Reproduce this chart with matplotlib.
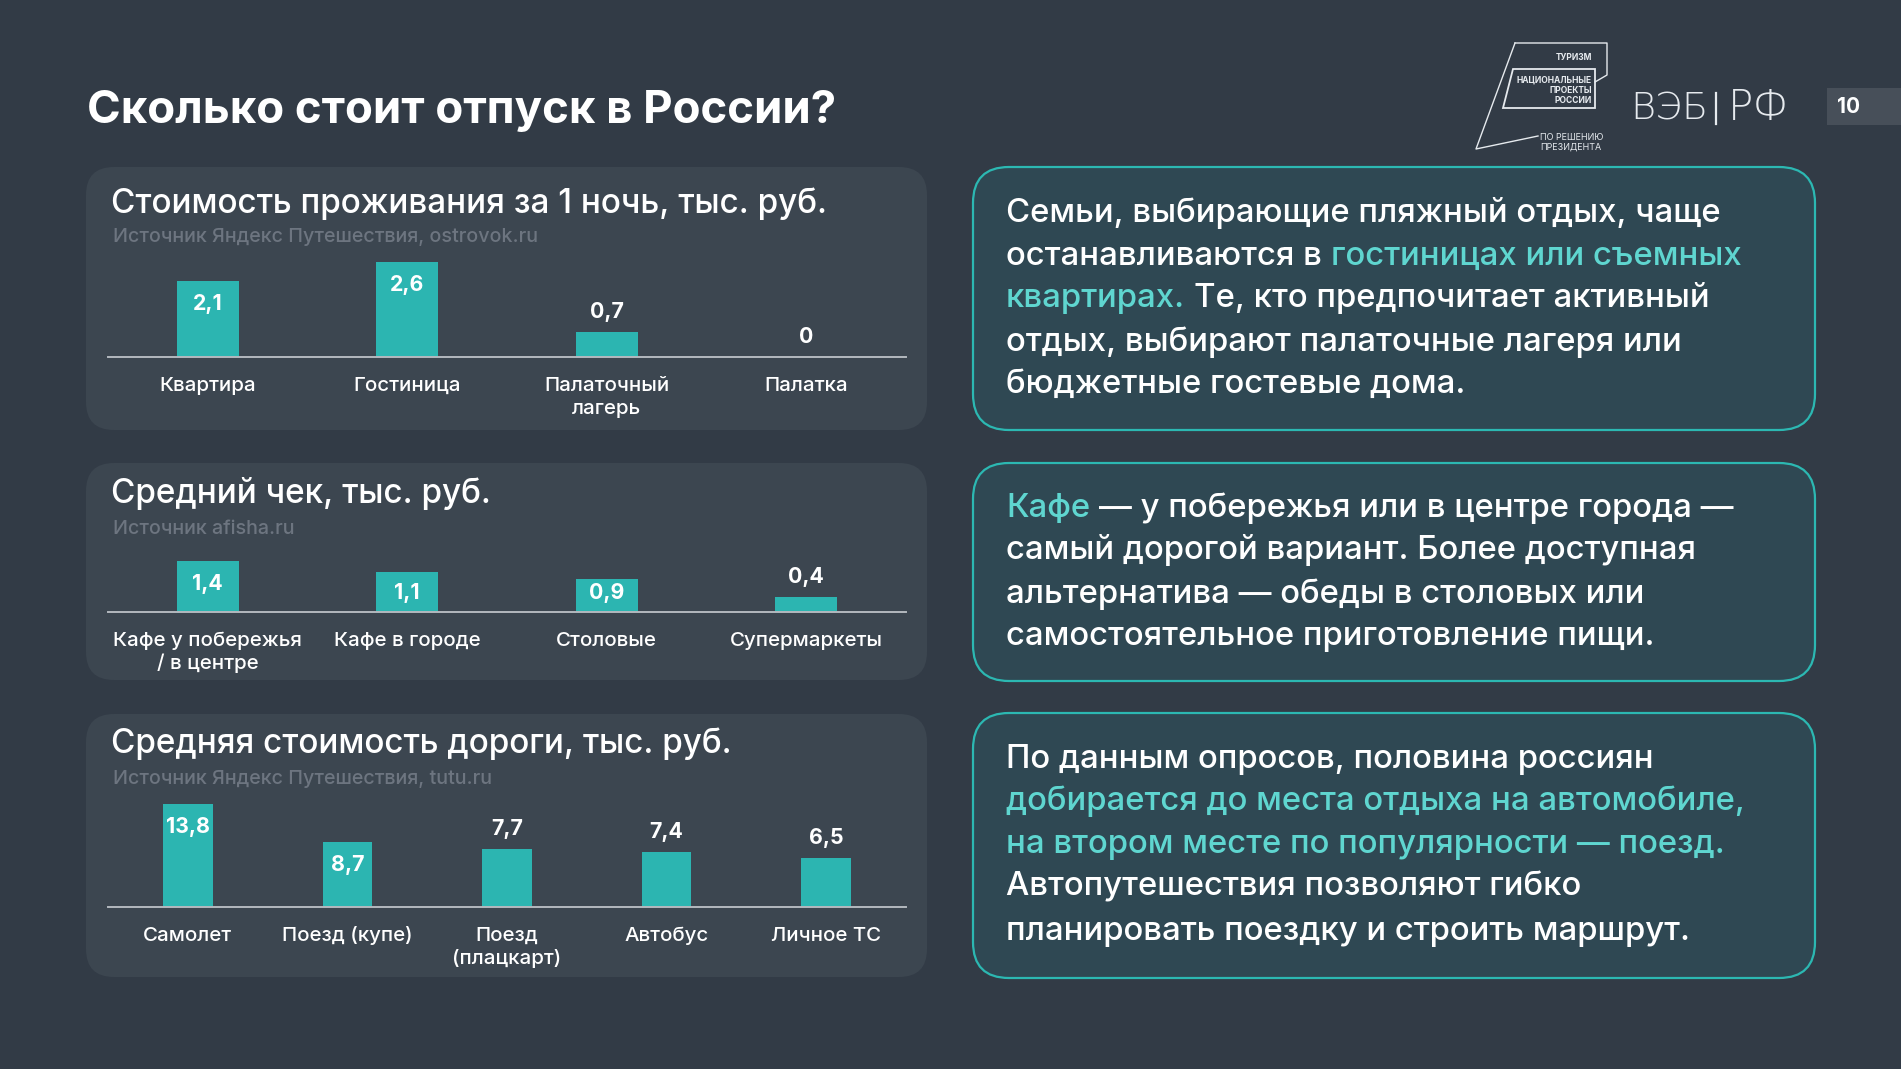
import os
import matplotlib
matplotlib.use("Agg")
import matplotlib.pyplot as plt
from matplotlib import font_manager as fm
from matplotlib import patheffects as pe
from matplotlib.patches import FancyBboxPatch, Polygon, Rectangle

# ---------------- data ----------------
main_title = "Сколько стоит отпуск в России?"
chart_titles = ["Стоимость проживания за 1 ночь, тыс. руб.",
                "Средний чек, тыс. руб.",
                "Средняя стоимость дороги, тыс. руб."]
chart_sources = ["Источник Яндекс Путешествия, ostrovok.ru",
                 "Источник afisha.ru",
                 "Источник Яндекс Путешествия, tutu.ru"]

stay_categories = ["Квартира", "Гостиница", "Палаточный\nлагерь", "Палатка"]
stay_values = [2.1, 2.6, 0.7, 0.0]

food_categories = ["Кафе у побережья\n/ в центре", "Кафе в городе", "Столовые", "Супермаркеты"]
food_values = [1.4, 1.1, 0.9, 0.4]

travel_categories = ["Самолет", "Поезд (купе)", "Поезд\n(плацкарт)", "Автобус", "Личное ТС"]
travel_values = [13.8, 8.7, 7.7, 7.4, 6.5]

# text boxes: each line is a list of (text, highlighted)
box1_lines = [
    [("Семьи, выбирающие пляжный отдых, чаще", False)],
    [("останавливаются в", False), ("гостиницах или съемных", True)],
    [("квартирах.", True), ("Те, кто предпочитает активный", False)],
    [("отдых, выбирают палаточные лагеря или", False)],
    [("бюджетные гостевые дома.", False)],
]
box2_lines = [
    [("Кафе", True), ("— у побережья или в центре города —", False)],
    [("самый дорогой вариант. Более доступная", False)],
    [("альтернатива — обеды в столовых или", False)],
    [("самостоятельное приготовление пищи.", False)],
]
box3_lines = [
    [("По данным опросов, половина россиян", False)],
    [("добирается до места отдыха на автомобиле,", True)],
    [("на втором месте по популярности — поезд.", True)],
    [("Автопутешествия позволяют гибко", False)],
    [("планировать поездку и строить маршрут.", False)],
]
page_number = "10"

# ---------------- style ----------------
W, H = 1901, 1069
BG = "#323b46"
PANEL = "#3c4650"
BOX_FILL = "#2f4853"
BOX_EDGE = "#2cb8b2"
BAR = "#2cb5b1"
HL = "#5fd6d0"
SRC = "#6d7580"
AXLINE = "#b4b9bf"
FONT = ["Inter", "DejaVu Sans"]
plt.rcParams["font.family"] = FONT

# emulate a medium weight if no real medium face is installed
_med_path = fm.findfont(fm.FontProperties(family="Inter", weight="medium"))
HAS_MEDIUM = "medium" in os.path.basename(_med_path).lower()


def med_fx(color, lw=0.6):
    if HAS_MEDIUM:
        return None
    return [pe.withStroke(linewidth=lw, foreground=color)]


fig = plt.figure(figsize=(W / 100, H / 100), dpi=100, facecolor=BG)
renderer = fig.canvas.get_renderer()

bg = fig.add_axes([0, 0, 1, 1])
bg.set_xlim(0, W)
bg.set_ylim(H, 0)
bg.axis("off")
bg.set_facecolor(BG)


def fit(s, target, **kw):
    t = fig.text(0, 0, s, fontsize=20, **kw)
    w = t.get_window_extent(renderer).width
    t.remove()
    return 20 * target / w


def width_of(s, size, **kw):
    t = fig.text(0, 0, s, fontsize=size, **kw)
    w = t.get_window_extent(renderer).width
    t.remove()
    return w


# font sizes fitted to reference widths (pixels)
fs_main = fit(main_title, 752, fontweight="bold")
fs_ctitle = fit(chart_titles[0], 716, fontweight="medium")
fs_src = fit(chart_sources[0], 425, fontweight="medium")
fs_cat = fit("Квартира", 96, fontweight="medium")
fs_val = fit("13,8", 44, fontweight="bold")
fs_box = fit(box1_lines[0][0][0], 713, fontweight="medium")

# ---------------- background shapes ----------------
def rbox(x0, y0, x1, y1, r, fc, ec="none", lw=0):
    p = FancyBboxPatch((x0, y0), x1 - x0, y1 - y0,
                       boxstyle=f"round,pad=0,rounding_size={r}",
                       fc=fc, ec=ec, lw=lw, zorder=1)
    bg.add_patch(p)


panels = [(86, 167, 927, 430), (86, 463, 927, 680), (86, 714, 927, 977)]
for (x0, y0, x1, y1) in panels:
    rbox(x0, y0, x1, y1, 28, PANEL)

boxes = [(973, 167, 1815, 430), (973, 463, 1815, 681), (973, 713, 1815, 978)]
for (x0, y0, x1, y1) in boxes:
    rbox(x0, y0, x1, y1, 36, BOX_FILL, BOX_EDGE, 1.6)

# main title
bg.text(87, 123, main_title, fontsize=fs_main, fontweight="bold", color="white",
        ha="left", va="baseline")

# chart titles & sources
title_base = [213, 503, 753]
src_base = [242, 534, 784]
for i in range(3):
    bg.text(111, title_base[i], chart_titles[i], fontsize=fs_ctitle, fontweight="medium",
            color="white", ha="left", va="baseline", path_effects=med_fx("white", 0.5))
    bg.text(113, src_base[i], chart_sources[i], fontsize=fs_src, fontweight="medium",
            color=SRC, ha="left", va="baseline", path_effects=med_fx(SRC, 0.4))

# ---------------- charts ----------------
def fmt(v):
    return "0" if v == 0 else f"{v:.1f}".replace(".", ",")


def chart(cats, vals, inside, y_base, px_per_unit, bar_w):
    x0, x1, h = 108, 906, 120
    ax = fig.add_axes([x0 / W, 1 - y_base / H, (x1 - x0) / W, h / H])
    ax.set_xlim(-0.5, len(cats) - 0.5)
    ax.set_ylim(0, h / px_per_unit)
    ax.axis("off")
    xs = list(range(len(cats)))
    ax.bar(xs, vals, width=bar_w, color=BAR, zorder=2)
    ax.axhline(0, color=AXLINE, lw=1.4, zorder=3, clip_on=False)
    for i, v in enumerate(vals):
        if inside[i]:
            off = -min(29, v * px_per_unit - 13)
        else:
            off = 14
        ax.annotate(fmt(v), xy=(i, v), xytext=(0, off * 0.72), textcoords="offset points",
                    ha="center", va="baseline", fontsize=fs_val, fontweight="bold",
                    color="white", annotation_clip=False, zorder=4)
        for j, line in enumerate(cats[i].split("\n")):
            ax.annotate(line, xy=(i, 0), xytext=(0, -(34 + 23 * j) * 0.72),
                        textcoords="offset points", ha="center", va="baseline",
                        fontsize=fs_cat, fontweight="medium", color="white",
                        annotation_clip=False, path_effects=med_fx("white", 0.45))
    return ax


chart(stay_categories, stay_values, [True, True, False, False], 357, 36.4, 0.31)
chart(food_categories, food_values, [True, True, True, False], 612, 36.4, 0.31)
chart(travel_categories, travel_values, [True, True, False, False, False], 907, 7.47, 0.31)

# ---------------- text boxes ----------------
space_w = width_of("н н", fs_box, fontweight="medium") - width_of("нн", fs_box, fontweight="medium")


def rich_block(x, baselines, lines):
    for yb, segs in zip(baselines, lines):
        cx = x
        for k, (s, hl) in enumerate(segs):
            col = HL if hl else "white"
            t = bg.text(cx, yb, s, fontsize=fs_box, fontweight="medium",
                        color=col, ha="left", va="baseline", zorder=5,
                        path_effects=med_fx(col, 0.55))
            cx += t.get_window_extent(renderer).width + space_w


rich_block(1006, [222, 265, 307, 351, 393], box1_lines)
rich_block(1006, [517, 559, 603, 645], box2_lines)
rich_block(1006, [768, 810, 853, 896, 940], box3_lines)

# ---------------- logo ----------------
lc = "#e6eaee"
bg.plot([1515, 1607, 1607, 1595], [43, 43, 75, 82], color=lc, lw=1.0, zorder=5)
bg.plot([1515, 1476, 1538], [43, 149, 136], color=lc, lw=1.0, zorder=5)
bg.add_patch(Polygon([(1513, 69), (1595, 69), (1595, 108), (1503, 108)], closed=True,
                     fill=False, ec=lc, lw=1.3, zorder=5))
fs_logo = fit("НАЦИОНАЛЬНЫЕ", 76, fontweight="bold")
bg.text(1592, 60, "ТУРИЗМ", fontsize=fs_logo, fontweight="bold", color=lc, ha="right", va="baseline")
for yb, s in zip([83, 93, 103], ["НАЦИОНАЛЬНЫЕ", "ПРОЕКТЫ", "РОССИИ"]):
    bg.text(1592, yb, s, fontsize=fs_logo, fontweight="bold", color=lc, ha="right", va="baseline")
fs_logo2 = fit("ПО РЕШЕНИЮ", 64)
bg.text(1540, 140, "ПО РЕШЕНИЮ", fontsize=fs_logo2, color=lc, ha="left", va="baseline")
bg.text(1540, 150, "ПРЕЗИДЕНТА", fontsize=fs_logo2, color=lc, ha="left", va="baseline")

# ВЭБ|РФ wordmark
fs_veb = fit("ВЭБ", 78, family=["DejaVu Sans"], fontweight="light")
bg.text(1630, 120, "ВЭБ", fontsize=fs_veb, family=["DejaVu Sans"], fontweight="light",
        color=lc, ha="left", va="baseline")
bg.plot([1716, 1716], [93, 124], color=lc, lw=1.6)
fs_rf = fit("РФ", 84, family=["DejaVu Sans"], fontweight="light")
bg.text(1728, 120, "РФ", fontsize=min(fs_rf, fs_veb * 1.1), family=["DejaVu Sans"],
        fontweight="light", color=lc, ha="left", va="baseline")

bg.add_patch(Rectangle((1827, 88), 80, 37, fc="#474f59", ec="none", zorder=4))
bg.text(1849, 107, page_number, fontsize=15, fontweight="bold", color="white",
        ha="center", va="center", zorder=5)

fig.savefig("out.png", dpi=100, facecolor=BG)
